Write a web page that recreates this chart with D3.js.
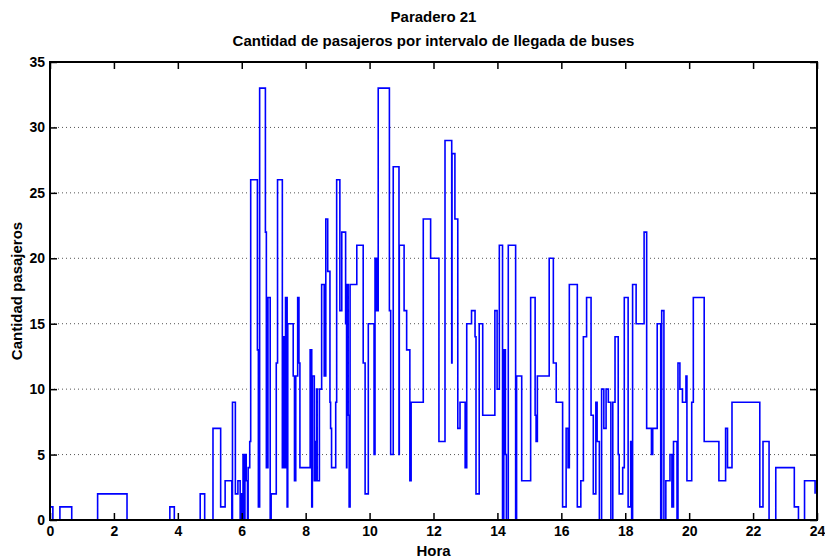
<!DOCTYPE html>
<html>
<head>
<meta charset="utf-8">
<script src="https://cdn.jsdelivr.net/npm/d3@7"></script>
<style>
  html, body { margin: 0; padding: 0; background: #fff; }
  svg text { font-family: "Liberation Sans", Arial, sans-serif; font-weight: bold; fill: #000; }
</style>
</head>
<body>
<svg id="chart" width="825" height="559"></svg>
<script>
// ---- data ----
const titleLines = ["Paradero 21", "Cantidad de pasajeros por intervalo de llegada de buses"];
const xLabel = "Hora";
const yLabel = "Cantidad pasajeros";
const xTicks = [0, 2, 4, 6, 8, 10, 12, 14, 16, 18, 20, 22, 24];
const yTicks = [0, 5, 10, 15, 20, 25, 30, 35];
const gridValues = [5, 10, 15, 20, 25, 30];

// start time (hours) of each step, and the passenger count held from that time
const stepHours = [
  0.00, 0.09, 0.31, 0.68, 1.49, 2.41, 3.75, 3.89, 4.70, 4.84,
  5.10, 5.34, 5.48, 5.69, 5.71, 5.80, 5.88, 5.95, 5.98, 6.01,
  6.04, 6.09, 6.10, 6.14, 6.18, 6.20, 6.25, 6.28, 6.49, 6.52,
  6.56, 6.74, 6.77, 6.82, 6.89, 6.92, 7.08, 7.12, 7.27, 7.29,
  7.33, 7.37, 7.42, 7.44, 7.61, 7.65, 7.69, 7.75, 7.79, 7.82,
  8.14, 8.19, 8.21, 8.27, 8.31, 8.34, 8.36, 8.43, 8.50, 8.58,
  8.63, 8.69, 8.76, 8.78, 8.81, 8.94, 8.97, 9.07, 9.13, 9.25,
  9.28, 9.29, 9.33, 9.36, 9.39, 9.60, 9.80, 9.86, 9.96, 10.14,
  10.17, 10.22, 10.27, 10.62, 10.66, 10.74, 10.92, 10.93, 11.08, 11.16,
  11.26, 11.30, 11.68, 11.91, 12.17, 12.36, 12.57, 12.58, 12.67, 12.76,
  12.83, 12.99, 13.04, 13.19, 13.30, 13.33, 13.43, 13.54, 13.92, 13.99,
  14.06, 14.16, 14.20, 14.25, 14.28, 14.34, 14.57, 14.60, 14.76, 15.04,
  15.18, 15.21, 15.25, 15.62, 15.75, 15.84, 16.04, 16.15, 16.21, 16.25,
  16.50, 16.61, 16.69, 16.79, 16.93, 17.00, 17.08, 17.12, 17.19, 17.26,
  17.33, 17.40, 17.47, 17.55, 17.61, 17.68, 17.78, 17.81, 17.92, 17.97,
  18.09, 18.17, 18.20, 18.23, 18.34, 18.59, 18.67, 18.82, 18.86, 19.00,
  19.11, 19.14, 19.21, 19.27, 19.40, 19.46, 19.51, 19.62, 19.65, 19.71,
  19.79, 19.90, 19.93, 20.08, 20.13, 20.47, 20.93, 21.14, 21.20, 21.34,
  22.21, 22.31, 22.50, 22.71, 23.29, 23.42, 23.61, 23.94
];
const stepValues = [
  1, 0, 1, 0, 2, 0, 1, 0, 2, 0,
  7, 1, 3, 0, 9, 2, 3, 0, 2, 0,
  5, 0, 5, 3, 0, 4, 6, 26, 13, 1,
  33, 22, 4, 17, 0, 2, 12, 26, 4, 14,
  4, 17, 1, 15, 11, 3, 11, 17, 12, 4,
  13, 1, 11, 3, 6, 10, 3, 10, 18, 11,
  23, 19, 9, 7, 4, 9, 26, 16, 22, 15,
  4, 18, 8, 1, 18, 21, 12, 2, 15, 5,
  20, 16, 33, 16, 5, 27, 5, 21, 16, 13,
  3, 9, 23, 20, 6, 29, 12, 28, 23, 7,
  9, 4, 15, 16, 14, 2, 15, 8, 16, 10,
  21, 0, 13, 5, 0, 21, 0, 11, 3, 17,
  8, 6, 11, 20, 12, 9, 1, 7, 4, 18,
  1, 3, 14, 17, 8, 2, 9, 6, 0, 10,
  7, 10, 9, 0, 9, 14, 5, 2, 4, 17,
  1, 6, 0, 18, 15, 22, 7, 5, 7, 15,
  0, 16, 0, 3, 5, 1, 6, 0, 12, 10,
  9, 11, 3, 9, 17, 6, 3, 7, 4, 9,
  1, 6, 0, 4, 1, 0, 3, 2
];

// ---- layout ----
const svg = d3.select("#chart");
const L = 50, R = 817, T = 62, B = 520;
const x = d3.scaleLinear().domain([0, 24]).range([L, R]);
const y = d3.scaleLinear().domain([0, 35]).range([B, T]);

// grid (horizontal, dotted)
svg.append("g").selectAll("line").data(gridValues).join("line")
  .attr("x1", L).attr("x2", R)
  .attr("y1", d => y(d)).attr("y2", d => y(d))
  .attr("stroke", "#555").attr("stroke-width", 1)
  .attr("stroke-dasharray", "1,3");

// stairs line
const pts = stepHours.map((t, i) => [t, stepValues[i]]);
const line = d3.line().x(d => x(d[0])).y(d => y(d[1])).curve(d3.curveStepAfter);
svg.append("path").datum(pts)
  .attr("d", line)
  .attr("fill", "none")
  .attr("stroke", "#0000ff")
  .attr("stroke-width", 1.6)
  .attr("stroke-linejoin", "miter");

// axes with inward ticks on all four sides
const tickLen = 7;
const tickFs = "14px";
const labFs = "15px";
const xb = svg.append("g").attr("transform", `translate(0,${B})`)
  .call(d3.axisBottom(x).tickValues(xTicks).tickSize(-tickLen).tickPadding(5).tickFormat(d3.format("d")));
const xt = svg.append("g").attr("transform", `translate(0,${T})`)
  .call(d3.axisTop(x).tickValues(xTicks).tickSize(-tickLen).tickFormat(""));
const yl = svg.append("g").attr("transform", `translate(${L},0)`)
  .call(d3.axisLeft(y).tickValues(yTicks).tickSize(-tickLen).tickPadding(5).tickFormat(d3.format("d")));
const yr = svg.append("g").attr("transform", `translate(${R},0)`)
  .call(d3.axisRight(y).tickValues(yTicks).tickSize(-tickLen).tickFormat(""));
[xb, xt, yl, yr].forEach(g => {
  g.select(".domain").remove();
  g.selectAll(".tick line").attr("stroke", "#000").attr("stroke-width", 1.5);
  g.selectAll("text").style("font-size", tickFs).style("font-weight", "bold")
    .style("font-family", "'Liberation Sans', Arial, sans-serif").attr("fill", "#000");
});
xb.selectAll("text").attr("dy", "0.8em");

// frame
svg.append("rect").attr("x", L).attr("y", T).attr("width", R - L).attr("height", B - T)
  .attr("fill", "none").attr("stroke", "#000").attr("stroke-width", 2);

// titles
svg.append("text").attr("x", (L + R) / 2).attr("y", 22).attr("text-anchor", "middle")
  .style("font-size", labFs).text(titleLines[0]);
svg.append("text").attr("x", (L + R) / 2).attr("y", 46).attr("text-anchor", "middle")
  .style("font-size", labFs).text(titleLines[1]);
svg.append("text").attr("x", (L + R) / 2).attr("y", 556).attr("text-anchor", "middle")
  .style("font-size", labFs).text(xLabel);
svg.append("text").attr("transform", `translate(22,${(T + B) / 2}) rotate(-90)`)
  .attr("text-anchor", "middle").style("font-size", labFs).text(yLabel);
</script>
</body>
</html>
